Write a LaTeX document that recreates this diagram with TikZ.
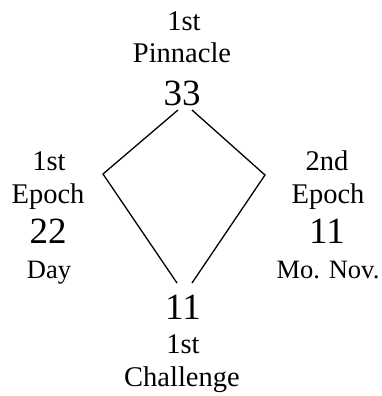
\documentclass[tikz,border=0pt]{standalone}
\usepackage{fontspec}
\setmainfont{Liberation Serif}
\begin{document}
\begin{tikzpicture}[x=1bp,y=-1bp,
  lbl/.style={inner sep=0pt,anchor=base,font=\fontsize{28.5bp}{28.5bp}\selectfont},
  sml/.style={inner sep=0pt,anchor=base,font=\fontsize{26.5bp}{26.5bp}\selectfont},
  num/.style={inner sep=0pt,anchor=base,font=\fontsize{37bp}{37bp}\selectfont},
  edge/.style={line width=1.3bp,line join=miter}]
\useasboundingbox (0,0) rectangle (382,396);
% top
\node[lbl] (t1st) at (184,30) {1st};
\node[lbl] (tpin) at (182,62) {Pinnacle};
\node[num] (n33) at (182,105) {33};
% left
\node[lbl] (l1st) at (49,170) {1st};
\node[lbl] (lep) at (48,203) {Epoch};
\node[num] (n22) at (48,243) {22};
\node[sml] (lday) at (49,278) {Day};
% right
\node[lbl] (r2nd) at (327,170) {2nd};
\node[lbl] (rep) at (328,203) {Epoch};
\node[num] (n11r) at (327,243) {11};
\node[sml] (rmo) at (328,278) {Mo. Nov.};
% bottom
\node[num] (n11b) at (183,319) {11};
\node[lbl] (b1st) at (183,353) {1st};
\node[lbl] (bch) at (182,386) {Challenge};
% diamond
\coordinate (ta) at (178,110);
\coordinate (tb) at (192,110);
\coordinate (L) at (103,174);
\coordinate (R) at (265,175);
\coordinate (ba) at (177,283);
\coordinate (bb) at (192,283);
\draw[edge] (ta) -- (L) -- (ba);
\draw[edge] (tb) -- (R) -- (bb);
\end{tikzpicture}
\end{document}
